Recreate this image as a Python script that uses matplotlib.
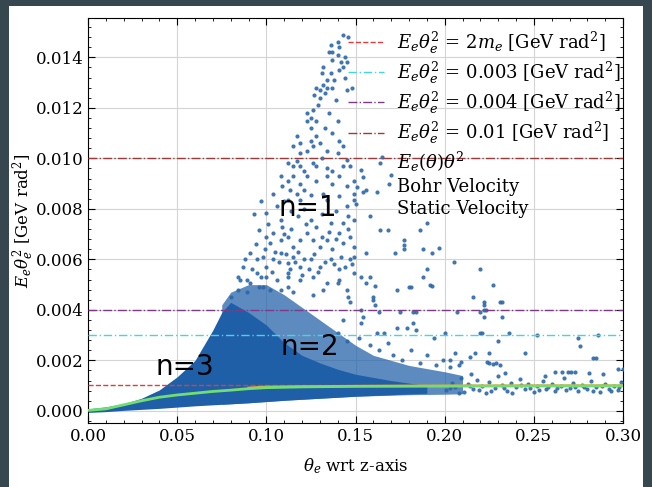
import numpy as np
import matplotlib.pyplot as plt
from matplotlib.lines import Line2D
from matplotlib.patches import Rectangle
from matplotlib.ticker import MultipleLocator

plt.rcParams['font.family'] = 'DejaVu Serif'
plt.rcParams['mathtext.fontset'] = 'dejavuserif'

# reference levels [GeV rad^2]
level_2me = 0.001022
level_003 = 0.003
level_004 = 0.004
level_010 = 0.010

# dense core of the scatter, y in 1e-3 GeV rad^2
core_x = [0.000, 0.010, 0.020, 0.030, 0.040, 0.050, 0.060, 0.070, 0.075, 0.080,
          0.085, 0.090, 0.100, 0.110, 0.120, 0.130, 0.140, 0.150, 0.170, 0.190]
core_lo = [-0.06, -0.03, 0.02, 0.06, 0.10, 0.15, 0.20, 0.24, 0.26, 0.28,
           0.30, 0.32, 0.37, 0.42, 0.46, 0.50, 0.54, 0.58, 0.64, 0.70]
core_hi = [0.08, 0.16, 0.28, 0.50, 0.83, 1.35, 2.00, 3.20, 3.90, 4.30,
           4.10, 3.90, 3.40, 2.70, 2.20, 1.90, 1.65, 1.45, 1.20, 1.00]

# speckled zone around the core
med_x = [0.075, 0.080, 0.090, 0.100, 0.110, 0.120, 0.130, 0.140, 0.150, 0.160,
         0.180, 0.200, 0.210]
med_lo = [0.26, 0.28, 0.32, 0.37, 0.42, 0.46, 0.50, 0.54, 0.58, 0.60,
          0.64, 0.66, 0.68]
med_hi = [4.20, 4.70, 5.00, 5.00, 4.60, 4.10, 3.60, 3.10, 2.60, 2.20,
          1.80, 1.55, 1.40]

# the n=1 plume (x, y in 1e-3)
plume_pts = [
    (0.143, 14.9), (0.146, 14.8), (0.136, 14.5), (0.140, 14.6), (0.141, 14.4),
    (0.135, 14.2), (0.137, 14.2), (0.140, 14.1), (0.137, 13.9), (0.142, 13.8),
    (0.144, 14.0), (0.132, 13.6), (0.131, 13.4), (0.136, 13.4), (0.141, 13.5),
    (0.143, 13.6), (0.145, 13.8), (0.128, 12.8), (0.130, 12.7), (0.132, 12.9),
    (0.134, 12.8), (0.133, 12.6), (0.137, 12.8), (0.127, 12.5), (0.130, 12.4),
    (0.145, 12.7), (0.148, 12.8), (0.123, 11.8), (0.125, 11.6), (0.126, 11.9),
    (0.123, 11.5), (0.128, 11.5), (0.135, 11.8), (0.140, 11.5), (0.125, 11.2),
    (0.117, 10.9), (0.119, 10.6), (0.115, 10.5), (0.125, 10.7), (0.126, 10.5),
    (0.130, 10.6), (0.128, 10.9), (0.137, 11.0), (0.141, 10.7), (0.143, 10.5),
    (0.134, 10.3), (0.140, 10.2), (0.119, 10.2), (0.123, 10.3), (0.112, 9.8),
    (0.115, 9.7), (0.119, 9.7), (0.126, 9.8), (0.128, 9.7), (0.134, 9.6),
    (0.137, 9.5), (0.143, 9.7), (0.147, 9.7), (0.108, 9.3), (0.112, 9.1),
    (0.115, 9.3), (0.119, 9.0), (0.123, 9.3), (0.128, 9.1), (0.134, 9.3),
    (0.137, 9.0), (0.141, 9.3), (0.145, 8.9), (0.149, 9.1), (0.109, 8.9),
    (0.113, 8.75), (0.117, 8.6), (0.112, 8.35), (0.106, 8.1), (0.119, 8.35),
    (0.121, 8.75), (0.125, 8.55), (0.132, 8.6), (0.134, 8.35), (0.141, 8.5),
    (0.145, 8.1), (0.149, 8.6), (0.100, 7.85), (0.108, 7.55), (0.125, 7.55),
    (0.128, 7.3), (0.136, 7.45), (0.143, 7.45), (0.149, 7.55), (0.109, 7.3),
    (0.141, 7.05), (0.147, 6.9), (0.096, 7.15), (0.100, 6.9), (0.104, 7.05),
    (0.102, 6.65), (0.108, 6.75), (0.112, 6.9), (0.115, 6.5), (0.119, 6.75),
    (0.123, 7.05), (0.126, 6.75), (0.130, 6.5), (0.134, 6.75), (0.137, 6.4),
    (0.143, 6.65), (0.149, 6.5), (0.091, 6.25), (0.095, 6.0), (0.098, 6.1),
    (0.100, 5.7), (0.104, 6.0), (0.108, 6.25), (0.112, 5.85), (0.115, 6.1),
    (0.119, 5.7), (0.125, 6.0), (0.130, 5.7), (0.136, 6.0), (0.141, 5.6),
    (0.147, 6.0), (0.087, 5.7), (0.084, 5.3), (0.089, 5.2), (0.095, 5.45),
    (0.100, 5.3), (0.106, 5.2), (0.112, 5.3), (0.119, 5.2), (0.126, 5.3),
    (0.134, 5.05), (0.141, 5.2), (0.149, 5.45),
    (0.088, 6.0), (0.092, 5.6), (0.094, 6.6), (0.097, 5.3), (0.099, 6.4),
    (0.101, 7.4), (0.103, 5.5), (0.105, 6.3), (0.107, 5.9), (0.110, 7.0),
    (0.111, 6.2), (0.113, 5.6), (0.114, 7.2), (0.116, 5.9), (0.118, 6.3),
    (0.120, 5.4), (0.121, 6.0), (0.122, 7.4), (0.124, 5.6), (0.127, 6.2),
    (0.129, 5.5), (0.131, 6.9), (0.133, 5.9), (0.135, 7.1), (0.138, 5.8),
    (0.139, 6.8), (0.142, 6.1), (0.144, 5.7), (0.146, 7.2), (0.148, 5.8),
    (0.093, 7.8), (0.097, 8.3), (0.104, 8.6), (0.110, 8.3), (0.114, 7.9),
    (0.118, 7.7), (0.121, 8.0), (0.131, 7.8), (0.139, 7.9), (0.146, 7.7),
    (0.150, 8.2), (0.117, 9.9), (0.121, 9.5), (0.131, 10.0), (0.133, 11.2),
    (0.129, 12.1), (0.139, 12.3), (0.138, 13.1), (0.134, 13.1), (0.144, 13.2),
]

# right flank of the plume
flank_pts = [
    (0.145, 9.95), (0.153, 9.55), (0.154, 9.25), (0.151, 8.85), (0.154, 8.65),
    (0.149, 8.35), (0.156, 8.75), (0.164, 9.8), (0.165, 10.05), (0.170, 9.35),
    (0.169, 9.0), (0.162, 8.65), (0.158, 7.7), (0.164, 7.15), (0.168, 7.15),
    (0.177, 6.55), (0.177, 6.4), (0.186, 7.15), (0.190, 7.45), (0.188, 6.4),
    (0.197, 6.45), (0.193, 6.25), (0.205, 5.9), (0.220, 5.6), (0.190, 5.6),
    (0.188, 5.3), (0.181, 4.9), (0.192, 5.0), (0.227, 5.0), (0.216, 4.5),
    (0.222, 4.3), (0.160, 4.5), (0.153, 5.3), (0.158, 5.3), (0.145, 4.8),
    (0.146, 4.5), (0.140, 5.05), (0.147, 4.3), (0.175, 3.9), (0.182, 3.9),
    (0.207, 3.9), (0.222, 4.0), (0.231, 4.3), (0.154, 3.7), (0.149, 6.1),
    (0.156, 6.25), (0.172, 6.25), (0.177, 6.75),
]

# scattered points above the speckled zone
shoulder_pts = [
    (0.098, 4.9), (0.108, 4.8), (0.115, 4.7), (0.126, 4.6), (0.132, 4.8),
    (0.156, 5.05), (0.161, 4.95), (0.160, 4.4), (0.161, 4.2), (0.173, 4.8),
    (0.180, 4.9), (0.193, 4.95), (0.153, 4.0), (0.163, 3.9), (0.173, 3.3),
    (0.184, 3.9), (0.143, 3.6), (0.153, 3.5), (0.162, 3.1), (0.166, 3.1),
    (0.179, 3.3), (0.182, 3.5), (0.184, 3.2), (0.194, 2.9), (0.200, 3.1),
    (0.140, 3.1), (0.145, 2.75), (0.209, 1.95), (0.152, 2.9), (0.158, 2.6),
    (0.163, 2.4), (0.168, 2.7), (0.171, 2.2), (0.176, 2.0), (0.181, 2.4),
    (0.186, 1.9), (0.190, 2.2), (0.195, 1.8), (0.199, 2.0), (0.203, 1.75),
    (0.206, 2.3), (0.085, 5.2), (0.091, 5.05), (0.096, 4.9), (0.102, 4.8),
    (0.084, 4.8), (0.089, 4.7), (0.080, 4.5), (0.112, 5.45), (0.112, 4.9),
]

# tail beyond 0.2 rad
tail_pts = [
    (0.222, 4.2), (0.220, 3.9), (0.223, 4.0), (0.222, 3.7), (0.232, 3.7),
    (0.232, 4.3), (0.220, 3.1), (0.221, 3.1), (0.236, 3.1), (0.230, 2.75),
    (0.252, 3.0), (0.275, 2.9), (0.286, 3.0), (0.276, 2.55), (0.283, 2.1),
    (0.285, 2.1), (0.245, 2.3), (0.225, 2.3), (0.217, 2.3), (0.214, 2.15),
    (0.203, 2.0), (0.208, 1.8), (0.224, 1.95), (0.225, 1.9), (0.227, 1.85),
    (0.229, 1.9), (0.231, 1.8), (0.262, 1.55), (0.266, 1.55), (0.269, 1.55),
    (0.273, 1.55), (0.281, 1.5), (0.300, 1.65),
    (0.201, 0.82), (0.204, 1.12), (0.206, 0.95), (0.209, 1.30), (0.211, 0.76),
    (0.213, 1.05), (0.216, 0.88), (0.218, 1.22), (0.221, 0.98), (0.223, 0.72),
    (0.225, 1.15), (0.228, 0.90), (0.230, 1.38), (0.232, 1.02), (0.235, 0.80),
    (0.237, 1.10), (0.240, 0.93), (0.242, 1.25), (0.245, 0.85), (0.247, 1.05),
    (0.250, 0.75), (0.252, 0.98), (0.255, 1.18), (0.257, 0.88), (0.260, 1.08),
    (0.262, 0.80), (0.265, 1.00), (0.267, 1.30), (0.270, 0.90), (0.272, 1.12),
    (0.275, 0.78), (0.277, 1.02), (0.280, 0.86), (0.282, 1.20), (0.285, 0.95),
    (0.287, 0.74), (0.290, 1.08), (0.292, 0.88), (0.295, 1.00), (0.297, 0.82),
    (0.299, 1.15), (0.203, 0.92), (0.208, 0.70), (0.214, 1.00), (0.219, 0.84),
    (0.226, 0.78), (0.233, 0.92), (0.238, 0.72), (0.243, 1.02), (0.248, 0.92),
    (0.253, 0.84), (0.258, 0.95), (0.263, 0.92), (0.268, 0.82), (0.273, 0.96),
    (0.278, 0.94), (0.283, 0.80), (0.288, 0.98), (0.293, 0.78), (0.298, 0.95),
    (0.215, 1.45), (0.234, 1.50), (0.256, 1.40), (0.271, 1.55), (0.289, 1.45),
    (0.297, 1.65),
]

# velocity curves, y in 1e-3
bohr_x = [0.000, 0.010, 0.020, 0.030, 0.040, 0.050, 0.060, 0.070, 0.080, 0.090,
          0.100, 0.120, 0.150, 0.200, 0.250, 0.300]
bohr_y = [0.02, 0.08, 0.24, 0.40, 0.54, 0.63, 0.70, 0.77, 0.82, 0.88,
          0.92, 0.95, 0.97, 0.98, 0.985, 0.99]
static_x = [0.090, 0.100, 0.150, 0.200, 0.250, 0.300]
static_y = [0.92, 0.96, 0.99, 1.00, 1.005, 1.01]

blue = '#1f5fa8'

fig = plt.figure(figsize=(6.52, 4.87), dpi=100, facecolor='#37474f')
fig.patches.append(Rectangle((9 / 652, 0), 634 / 652, 481 / 487, transform=fig.transFigure,
                             facecolor='white', edgecolor='none', zorder=-10))
ax = fig.add_axes([88 / 652, 64 / 487, 535 / 652, 405 / 487])

ax.fill_between(med_x, np.array(med_lo) * 1e-3, np.array(med_hi) * 1e-3,
                color=blue, alpha=0.72, lw=0, zorder=2)
ax.fill_between(core_x, np.array(core_lo) * 1e-3, np.array(core_hi) * 1e-3,
                color=blue, lw=0, zorder=2)

for pts in (plume_pts, flank_pts, shoulder_pts, tail_pts):
    px, py = zip(*pts)
    ax.scatter(px, np.array(py) * 1e-3, s=9, color='#2d67a8', lw=0, alpha=0.9, zorder=3)

ax.axhline(level_2me, color='#e03c3c', ls='--', lw=1, zorder=4)
ax.axhline(level_003, color='#40d8d8', ls=(0, (6, 2, 1, 2)), lw=1, zorder=4)
ax.axhline(level_004, color='#7e3a86', ls='-.', lw=1, zorder=4)
ax.axhline(level_010, color='#a03a3a', ls='-.', lw=1, zorder=4)

ax.plot(static_x, np.array(static_y) * 1e-3, color='#f0a030', lw=1.5, zorder=5)
ax.plot(bohr_x, np.array(bohr_y) * 1e-3, color='#72de72', lw=2, zorder=6)

ax.text(0.1234, 0.00804, 'n=1', family='DejaVu Sans', fontsize=20, ha='center', va='center', zorder=7)
ax.text(0.1245, 0.00253, 'n=2', family='DejaVu Sans', fontsize=20, ha='center', va='center', zorder=7)
ax.text(0.0544, 0.00174, 'n=3', family='DejaVu Sans', fontsize=20, ha='center', va='center', zorder=7)

handles = [
    Line2D([], [], color='#e03c3c', ls='--', lw=1),
    Line2D([], [], color='#40d8d8', ls=(0, (6, 2, 1, 2)), lw=1),
    Line2D([], [], color='#7e3a86', ls='-.', lw=1),
    Line2D([], [], color='#a03a3a', ls='-.', lw=1),
    Line2D([], [], ls='none'),
    Line2D([], [], ls='none'),
    Line2D([], [], ls='none'),
]
labels = [
    r'$E_e\theta_e^2$ = $2m_e$ [GeV rad$^2$]',
    r'$E_e\theta_e^2$ = 0.003 [GeV rad$^2$]',
    r'$E_e\theta_e^2$ = 0.004 [GeV rad$^2$]',
    r'$E_e\theta_e^2$ = 0.01 [GeV rad$^2$]',
    r'$E_e(\theta)\theta^2$',
    'Bohr Velocity',
    'Static Velocity',
]
ax.legend(handles, labels, loc='upper right', bbox_to_anchor=(1.012, 0.994), frameon=False,
          fontsize=13, handlelength=2.0, handletextpad=0.7, borderaxespad=0.1,
          labelspacing=0.22)

ax.set_xlim(0, 0.30)
ax.set_ylim(-0.00048, 0.01556)
ax.xaxis.set_major_locator(MultipleLocator(0.05))
ax.xaxis.set_minor_locator(MultipleLocator(0.01))
ax.yaxis.set_major_locator(MultipleLocator(0.002))
ax.yaxis.set_minor_locator(MultipleLocator(0.0004))
ax.xaxis.set_major_formatter(plt.FuncFormatter(lambda v, p: f'{v:.2f}'))
ax.yaxis.set_major_formatter(plt.FuncFormatter(lambda v, p: f'{v:.3f}'))
ax.tick_params(which='both', direction='in', top=True, right=True, labelsize=12)
ax.tick_params(which='major', length=5)
ax.tick_params(which='minor', length=2.5)
ax.grid(True, color='#d4d4d4', lw=0.8)
ax.set_axisbelow(True)

ax.set_xlabel(r'$\theta_e$ wrt z-axis', fontsize=12, labelpad=8)
ax.set_ylabel(r'$E_e\theta_e^2$ [GeV rad$^2$]', fontsize=12, labelpad=-1)

fig.savefig('out.png', dpi=100, facecolor=fig.get_facecolor())
